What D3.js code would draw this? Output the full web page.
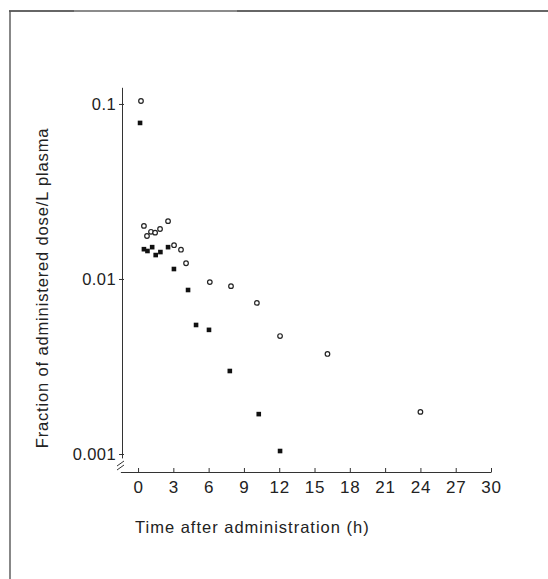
<!DOCTYPE html>
<html>
<head>
<meta charset="utf-8">
<script src="https://cdn.jsdelivr.net/npm/d3@7"></script>
<style>
  body { margin: 0; background: #fff; }
  #canvas { width: 548px; height: 579px; }
  text { font-family: "Liberation Sans", Arial, sans-serif; fill: #222; }
  .axis path, .axis line { stroke: #333; }
</style>
</head>
<body>
<div id="canvas" class="canvas"></div>
<script>
// open circles
var openTime = [0.25, 0.5, 0.76, 1.1, 1.45, 1.87, 2.55, 3.06, 3.65, 4.08, 6.1, 7.9, 10.1, 12.07, 16.1, 24.0];
var openVal  = [0.104, 0.0201, 0.0176, 0.0186, 0.0184, 0.0193, 0.0214, 0.0156, 0.0147, 0.0123, 0.0096, 0.0091, 0.0073, 0.00472, 0.00373, 0.00174];

// filled squares
var fillTime = [0.17, 0.5, 0.8, 1.2, 1.5, 1.9, 2.55, 3.05, 4.25, 4.93, 6.03, 7.8, 10.26, 12.07];
var fillVal  = [0.0779, 0.0148, 0.01445, 0.0152, 0.0137, 0.01425, 0.0152, 0.0114, 0.00865, 0.00546, 0.00512, 0.00298, 0.00169, 0.00104];

var xTicks = [0, 3, 6, 9, 12, 15, 18, 21, 24, 27, 30];
var yTicks = [0.001, 0.01, 0.1];
var yTickLabels = ['0.001', '0.01', '0.1'];

var outerWidth = 548, outerHeight = 579;

var svg = d3.select('.canvas')
    .append('svg')
    .attr('width', outerWidth)
    .attr('height', outerHeight);

// frame (top + left edge of the scanned page box)
svg.append('line').attr('x1', 9).attr('x2', 548).attr('y1', 11).attr('y2', 11)
    .attr('stroke', '#333').attr('stroke-width', 1.6);
svg.append('line').attr('x1', 74).attr('x2', 237).attr('y1', 11).attr('y2', 11)
    .attr('stroke', '#999').attr('stroke-width', 1.6);
svg.append('line').attr('x1', 10).attr('x2', 10).attr('y1', 11).attr('y2', 579)
    .attr('stroke', '#555').attr('stroke-width', 1.4);

var scaleX = d3.scaleLinear()
    .domain([-1.5, 30])
    .range([120.4, 491]);

var scaleY = d3.scaleLog()
    .domain([0.00095, 0.1245])
    .range([457.9, 87.3]);

var axisX = d3.axisBottom()
    .scale(scaleX)
    .tickValues(xTicks)
    .tickSizeInner(-4)
    .tickSizeOuter(0)
    .tickPadding(9);

var axisY = d3.axisLeft()
    .scale(scaleY)
    .tickValues(yTicks)
    .tickFormat(function(d, i) { return yTickLabels[i]; })
    .tickSizeInner(4)
    .tickSizeOuter(0)
    .tickPadding(2);

var gx = svg.append('g').attr('class', 'axis axis-x')
    .attr('transform', 'translate(0,472)')
    .call(axisX);
gx.selectAll('text').style('font-size', '17px').style('letter-spacing', '0.8px');

var gy = svg.append('g').attr('class', 'axis axis-y')
    .attr('transform', 'translate(122,0)')
    .call(axisY);
gy.selectAll('text').style('font-size', '16.5px').style('letter-spacing', '0.4px');
gy.selectAll('.tick line').attr('x2', -3).attr('x1', 2);

// axis break marks
svg.append('g').selectAll('line')
    .data([0, 4])
    .enter()
    .append('line')
    .attr('x1', 117).attr('x2', 124)
    .attr('y1', function(d) { return 466 + d; })
    .attr('y2', function(d) { return 461 + d; })
    .attr('stroke', '#333').attr('stroke-width', 1);

// axis titles
svg.append('text')
    .attr('x', 135).attr('y', 533)
    .style('font-size', '16.5px')
    .style('letter-spacing', '1px')
    .text('Time after administration (h)');

svg.append('text')
    .attr('transform', 'translate(48,288) rotate(-90)')
    .attr('text-anchor', 'middle')
    .style('font-size', '16.5px')
    .style('letter-spacing', '0.85px')
    .text('Fraction of administered dose/L plasma');

// points
var openPts = openTime.map(function(t, i) { return { t: t, v: openVal[i] }; });
var fillPts = fillTime.map(function(t, i) { return { t: t, v: fillVal[i] }; });

svg.append('g').selectAll('circle')
    .data(openPts)
    .enter()
    .append('circle')
    .attr('cx', function(d) { return scaleX(d.t); })
    .attr('cy', function(d) { return scaleY(d.v); })
    .attr('r', 2.3)
    .attr('fill', '#fff')
    .attr('stroke', '#222')
    .attr('stroke-width', 1.2);

svg.append('g').selectAll('rect')
    .data(fillPts)
    .enter()
    .append('rect')
    .attr('x', function(d) { return scaleX(d.t) - 2.3; })
    .attr('y', function(d) { return scaleY(d.v) - 2.3; })
    .attr('width', 4.6)
    .attr('height', 4.6)
    .attr('fill', '#111');
</script>
</body>
</html>
